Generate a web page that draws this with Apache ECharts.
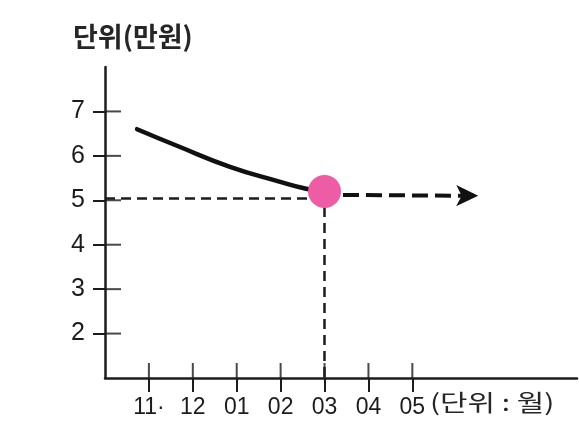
<!DOCTYPE html>
<html>
<head>
<meta charset="utf-8">
<script src="https://cdn.jsdelivr.net/npm/echarts@6/dist/echarts.min.js"></script>
<style>html,body{margin:0;padding:0;background:#fff;}#c{width:579px;height:421px;}</style>
</head>
<body>
<div id="c"></div>
<script>
// ---- data ----
const monthTicks = [0, 1, 2, 3, 4, 5, 6];
const monthLabels = ['11·', '12', '01', '02', '03', '04', '05'];
const yTicks = [2, 3, 4, 5, 6, 7];
const curveX = [-0.27, 0.68, 1.83, 2.97, 3.58, 4.0];
const curveY = [6.6, 6.21, 5.76, 5.42, 5.26, 5.2];
const dotPoint = [4, 5.2];
const forecastStart = [4.42, 5.12];
const forecastEnd = [7.5, 5.1];
const refLevel = 5.05;
const yAxisName = '단위(만원)';
const xAxisName = '(단위 : 월)';

const ink = '#1c1c1c';
const font = 'Liberation Sans, Arial, sans-serif';
const xMin = -1, yMin = 1;

const chart = echarts.init(document.getElementById('c'), null, {renderer: 'canvas'});
const curveData = curveX.map((x, i) => [x, curveY[i]]);

chart.setOption({
  animation: false,
  backgroundColor: '#fff',
  grid: {left: 105, right: 2, top: 67, bottom: 43},
  xAxis: {
    type: 'value', min: xMin, max: 9.75, interval: 1,
    splitLine: {show: false},
    axisLine: {show: true, onZero: false, lineStyle: {color: ink, width: 2.5}},
    axisTick: {show: true, customValues: monthTicks, length: 14, lineStyle: {color: ink, width: 2}},
    axisLabel: {
      show: true, customValues: monthTicks, margin: 18,
      fontSize: 23, color: ink, fontFamily: font,
      formatter: v => monthLabels[monthTicks.indexOf(Math.round(v))] || ''
    }
  },
  yAxis: {
    type: 'value', min: yMin, max: 8, interval: 1,
    splitLine: {show: false},
    axisLine: {show: true, onZero: false, lineStyle: {color: ink, width: 2.5}},
    axisTick: {show: true, customValues: yTicks, length: 12, lineStyle: {color: ink, width: 2}},
    axisLabel: {show: true, customValues: yTicks, margin: 20, fontSize: 25, color: ink, fontFamily: font}
  },
  graphic: [
    {type: 'text', left: 73, top: 23, style: {text: yAxisName, fontSize: 27, fontWeight: 'bold', fill: '#262626', fontFamily: 'Noto Sans CJK KR, sans-serif'}},
    {type: 'text', x: 430, y: 391, scaleX: 1.3, style: {text: xAxisName, fontSize: 23, fill: '#262626', fontFamily: 'Noto Sans CJK KR, sans-serif'}}
  ],
  series: [
    {
      // inner half of the crossing x ticks
      type: 'scatter', clip: false, silent: true, z: 2,
      data: monthTicks.map(v => [v, yMin]),
      symbol: 'rect', symbolSize: [2, 15], symbolOffset: [0, -7.5],
      itemStyle: {color: ink}
    },
    {
      // inner half of the crossing y ticks
      type: 'scatter', clip: false, silent: true, z: 2,
      data: yTicks.map(v => [xMin, v]),
      symbol: 'rect', symbolSize: [16, 2], symbolOffset: [8, 0],
      itemStyle: {color: ink}
    },
    {
      type: 'line', data: curveData, smooth: true, symbol: 'none',
      lineStyle: {color: '#111', width: 4.5, cap: 'round'},
      z: 3,
      markLine: {
        silent: true, symbol: ['none', 'none'], label: {show: false},
        lineStyle: {color: ink, width: 2.5, type: [10, 6]},
        data: [
          [{coord: [xMin, refLevel]}, {coord: [3.7, refLevel]}],
          [{coord: [4, 4.85]}, {coord: [4, yMin]}]
        ]
      }
    },
    {
      type: 'line', data: [forecastStart, forecastEnd], symbol: 'none',
      lineStyle: {opacity: 0},
      z: 3,
      markLine: {
        silent: true, symbol: ['none', 'arrow'], symbolSize: [16, 22], label: {show: false},
        lineStyle: {color: '#111', width: 4, type: [16, 7]},
        data: [[{coord: forecastStart}, {coord: forecastEnd}]]
      }
    },
    {
      type: 'scatter', data: [dotPoint], symbolSize: 33, z: 5,
      itemStyle: {color: '#ee5ca6', opacity: 1}
    }
  ]
});
</script>
</body>
</html>
